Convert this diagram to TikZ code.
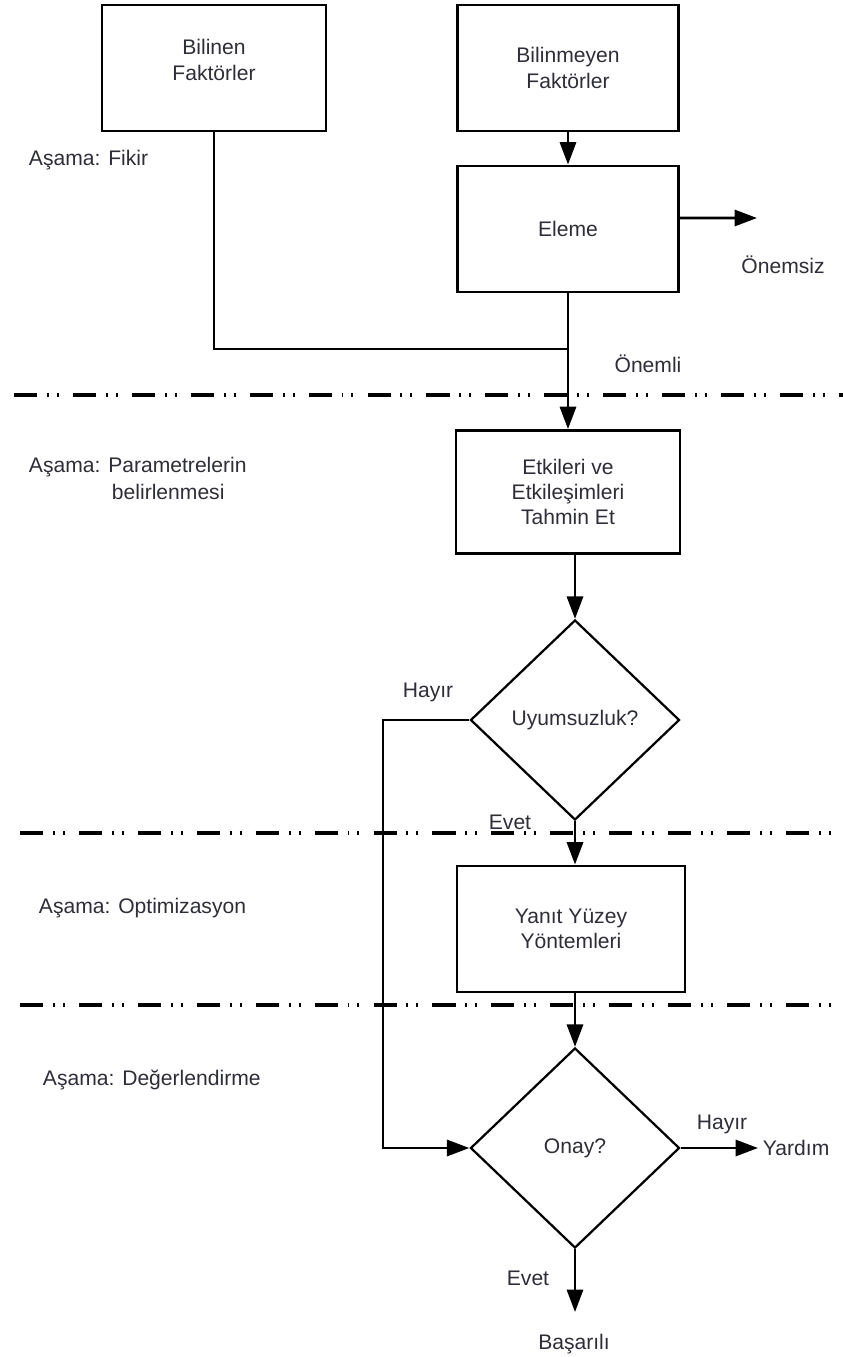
\documentclass[tikz,border=0pt]{standalone}
\usepackage{fontspec}
\setmainfont{Liberation Sans}
\usepackage{xcolor}
\usetikzlibrary{shapes.geometric,arrows.meta}
\definecolor{txt}{HTML}{2E2E38}

\tikzset{
  box/.style={draw, line width=2pt, rectangle, minimum width=5.6cm, minimum height=3.15cm, align=center, text=txt, font=\fontsize{15}{18}\selectfont},
  decision/.style={draw, line width=1.6pt, diamond, inner sep=0pt, minimum width=5.225cm, minimum height=5cm, text=txt, font=\fontsize{15}{18}\selectfont},
  lbl/.style={text=txt, font=\fontsize{15}{18}\selectfont},
  line/.style={line width=2pt},
  flow/.style={line width=2pt, -{Triangle[length=16pt,width=11.5pt]}},
  phase/.style={line width=2.4pt, dash pattern=on 16.4pt off 7pt on 1.4pt off 5.7pt on 1.4pt off 10pt}
}

\begin{document}
\begin{tikzpicture}[x=0.025cm, y=-0.025cm]
\useasboundingbox (0,0) rectangle (843,1357);

% boxes
\node[box] (bilinen) at (214,68) {Bilinen\\Faktörler\\[-0.225cm]};
\node[box, minimum width=5.525cm] (bilinmeyen) at (568,68) {Bilinmeyen\\Faktörler};
\node[box, minimum width=5.525cm] (eleme) at (568,229) {Eleme};
\node[box, minimum height=3.075cm] (etk) at (568,492) {Etkileri ve\\Etkileşimleri\\Tahmin Et};
\node[decision] (uyum) at (575,720) {Uyumsuzluk?};
\node[box, minimum width=5.7cm] (yanit) at (571,929) {Yanıt Yüzey\\Yöntemleri};
\node[decision] (onay) at (575,1148) {Onay?};

% phase labels
\node[lbl, anchor=west] (fikir) at (24,160) {Aşama: Fikir};
\node[lbl, anchor=west] (param) at (24,467) {Aşama: Parametrelerin};
\node[lbl, anchor=west] (param2) at (107,492) {belirlenmesi};
\node[lbl, anchor=west] (optim) at (34,908) {Aşama: Optimizasyon};
\node[lbl, anchor=west] (degerl) at (38,1080) {Aşama: Değerlendirme};

% other labels
\node[lbl] (onemsiz) at (783,265) {Önemsiz};
\node[lbl] (onemli) at (648,364) {Önemli};
\node[lbl] (hayir1) at (428,692) {Hayır};
\node[lbl] (evet1) at (510,822) {Evet};
\node[lbl] (hayir2) at (722,1124) {Hayır};
\node[lbl, anchor=west] (yardim) at (758,1148) {Yardım};
\node[lbl] (evet2) at (528,1278) {Evet};
\node[lbl] (basarili) at (574,1344) {Başarılı};

% phase separators
\draw[phase] (14,395) -- (843,395);
\draw[phase] (20,833) -- (843,833);
\draw[phase] (20,1005) -- (843,1005);

% connectors
\coordinate (join) at (568,349);
\coordinate (geri) at (383,720);
\coordinate (onemsizend) at (757,218);
\coordinate (son) at (575,1312);
\draw[line] (bilinen.south) |- (join);
\draw[flow] (bilinmeyen) -- (eleme);
\draw[flow] ([yshift=0.275cm]eleme.east) -- (onemsizend);
\draw[flow] (eleme) -- (etk);
\draw[flow] (uyum.north |- etk.south) -- (uyum.north);
\draw[flow] (uyum.south) -- (uyum.south |- yanit.north);
\draw[flow] (onay.north |- yanit.south) -- (onay.north);
\draw[flow] (uyum.west) -- (geri) |- (onay.west);
\draw[flow] (onay.east) -- (yardim.west);
\draw[flow] (onay.south) -- (son);
\end{tikzpicture}
\end{document}
